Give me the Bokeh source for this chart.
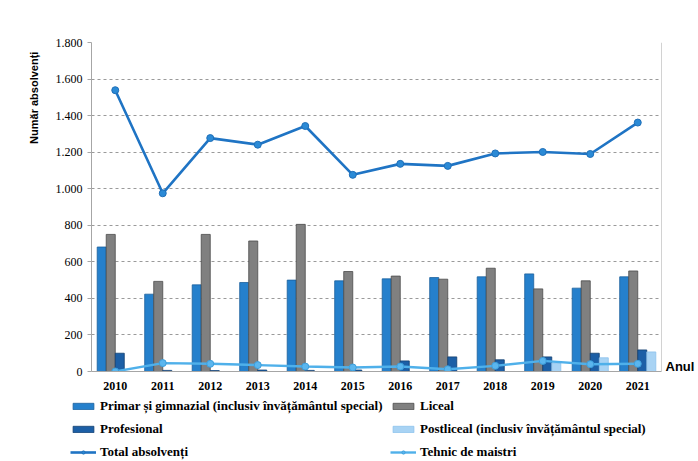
import math
from bokeh.plotting import figure
from bokeh.layouts import column
from bokeh.models import (FactorRange, FixedTicker, Legend, LegendItem,
                          Span, ColumnDataSource, LinearAxis, Range1d)
from bokeh.transform import dodge
from bokeh.embed import file_html
from bokeh.resources import INLINE

# ---- data ----
years = ["2010", "2011", "2012", "2013", "2014", "2015",
         "2016", "2017", "2018", "2019", "2020", "2021"]
primar = [681, 423, 474, 487, 500, 496, 507, 514, 518, 534, 456, 518]
liceal = [750, 493, 750, 714, 805, 547, 522, 505, 565, 452, 496, 550]
profesional = [100, 6, 5, 8, 6, 8, 58, 80, 64, 80, 100, 118]
postliceal = [0, 0, 0, 0, 0, 0, 0, 0, 0, 47, 75, 107]
total = [1539, 975, 1277, 1241, 1343, 1076, 1136, 1125, 1193, 1201, 1190, 1362]
tehnic = [0, 46, 42, 35, 27, 22, 27, 12, 31, 58, 40, 42]

y_ticks = [0, 200, 400, 600, 800, 1000, 1200, 1400, 1600, 1800]
y_tick_labels = ["0", "200", "400", "600", "800", "1.000", "1.200",
                 "1.400", "1.600", "1.800"]

series_names = ["Primar și gimnazial (inclusiv învățământul special)",
                "Liceal", "Profesional",
                "Postliceal (inclusiv învățământul special)",
                "Total absolvenți", "Tehnic de maistri"]
y_title = "Număr absolvenți"
x_title = "Anul"

# ---- styles ----
BAR_STYLE = {
    "primar": dict(fill_color="#2580cc", line_color="#1a5f9c"),
    "liceal": dict(fill_color="#808080", line_color="#4a4a4a"),
    "profesional": dict(fill_color="#1c5fa6", line_color="#123f70"),
    "postliceal": dict(fill_color="#a8d3f4", line_color="#8cc2ec"),
}
TOT_LINE = dict(line_color="#1f74c4", line_width=2.6)
TOT_PTS = dict(size=7, marker="circle", fill_color="#2b8ad6",
               line_color="#1f6fb8", line_width=1)
TEH_LINE = dict(line_color="#4fb0ea", line_width=2.4)
TEH_PTS = dict(size=7, marker="circle", fill_color="#5bb6ee",
               line_color="#3d9fdc", line_width=1)

src = ColumnDataSource(dict(year=years, primar=primar, liceal=liceal,
                            profesional=profesional, postliceal=postliceal,
                            total=total, tehnic=tehnic))

p = figure(x_range=FactorRange(*years, range_padding=0), y_range=(0, 1800),
           width=698, height=394, output_backend="svg", toolbar_location=None,
           min_border_left=91, min_border_right=37, min_border_top=42,
           min_border_bottom=23)
p.frame_align = False
p.outline_line_color = None
p.background_fill_color = "white"

bw = 0.19
offsets = {"primar": -1.5 * bw, "liceal": -0.5 * bw,
           "profesional": 0.5 * bw, "postliceal": 1.5 * bw}
for col in ["primar", "liceal", "profesional", "postliceal"]:
    p.vbar(x=dodge("year", offsets[col], range=p.x_range), top=col,
           width=bw, source=src, line_width=0.8, **BAR_STYLE[col])

p.line("year", "total", source=src, **TOT_LINE)
p.scatter("year", "total", source=src, **TOT_PTS)
p.line("year", "tehnic", source=src, **TEH_LINE)
p.scatter("year", "tehnic", source=src, **TEH_PTS)

# right border of the plot area
p.add_layout(Span(location=12, dimension="height", line_color="#a6a6a6",
                  line_width=1))

# main axes
p.yaxis.ticker = FixedTicker(ticks=y_ticks)
p.yaxis.major_label_overrides = {t: l for t, l in zip(y_ticks, y_tick_labels)}
p.yaxis.major_label_text_font = "Liberation Serif"
p.yaxis.major_label_text_font_size = "12px"
p.yaxis.major_label_text_color = "black"
p.yaxis.axis_line_color = "#a6a6a6"
p.yaxis.major_tick_line_color = "#a6a6a6"
p.yaxis.major_tick_out = 4
p.yaxis.major_tick_in = 0
p.yaxis.minor_tick_line_color = None
p.yaxis.major_label_standoff = 5

p.xaxis.major_label_text_font = "Liberation Serif"
p.xaxis.major_label_text_font_style = "bold"
p.xaxis.major_label_text_font_size = "12px"
p.xaxis.major_label_text_color = "black"
p.xaxis.axis_line_color = "#a6a6a6"
p.xaxis.major_tick_line_color = None
p.xaxis.minor_tick_line_color = None
p.xaxis.major_label_standoff = 4

p.xgrid.grid_line_color = None
p.ygrid.grid_line_color = "#9a9a9a"
p.ygrid.grid_line_dash = "3 3"
p.ygrid.grid_line_width = 1


def title_axis(text, at, size, orientation, standoff):
    # an axis with a single labelled tick, used as a positioned title
    return LinearAxis(ticker=FixedTicker(ticks=[at]),
                      major_label_overrides={at: text},
                      axis_line_color=None, major_tick_line_color=None,
                      minor_tick_line_color=None, major_tick_out=0,
                      major_tick_in=0, major_label_standoff=standoff,
                      major_label_text_font="Liberation Sans",
                      major_label_text_font_style="bold",
                      major_label_text_font_size=size,
                      major_label_text_color="black",
                      major_label_orientation=orientation)


p.add_layout(title_axis(y_title, 1750, "11px", math.pi / 2, 18), "left")
p.add_layout(title_axis(x_title, 27, "13px", "horizontal", 4), "right")

# ---- legend strip (separate figure sharing the data, nothing in view) ----
lg = figure(width=698, height=67, output_backend="svg", toolbar_location=None,
            x_range=FactorRange(*years), y_range=Range1d(5000, 5001),
            x_axis_location=None, y_axis_location=None,
            min_border=0, min_border_left=0, min_border_right=0,
            min_border_top=0, min_border_bottom=0)
lg.frame_align = False
lg.grid.visible = False
lg.outline_line_color = None

lr = {}
for col in ["primar", "liceal", "profesional", "postliceal"]:
    lr[col] = lg.vbar(x="year", top=col, width=0.1, source=src,
                      line_width=0.8, **BAR_STYLE[col])
lr["tot"] = [lg.line("year", "total", source=src, **TOT_LINE),
             lg.scatter("year", "total", source=src, **TOT_PTS)]
lr["teh"] = [lg.line("year", "tehnic", source=src, **TEH_LINE),
             lg.scatter("year", "tehnic", source=src, **TEH_PTS)]


def make_legend(items, loc):
    return Legend(items=items, location=loc, orientation="vertical",
                  background_fill_alpha=0, border_line_color=None,
                  padding=0, margin=0, spacing=7, glyph_width=26,
                  glyph_height=8, label_height=15, label_standoff=4,
                  label_text_font="Liberation Serif",
                  label_text_font_style="bold", label_text_font_size="13px",
                  label_text_color="black")


lg.add_layout(make_legend([
    LegendItem(label=series_names[0], renderers=[lr["primar"]]),
    LegendItem(label=series_names[2], renderers=[lr["profesional"]]),
    LegendItem(label=series_names[4], renderers=lr["tot"]),
], (70, 1)))
lg.add_layout(make_legend([
    LegendItem(label=series_names[1], renderers=[lr["liceal"]]),
    LegendItem(label=series_names[3], renderers=[lr["postliceal"]]),
    LegendItem(label=series_names[5], renderers=lr["teh"]),
], (390, 1)))

layout = column(p, lg, spacing=0)
open("out.html", "w").write(file_html(layout, INLINE))
